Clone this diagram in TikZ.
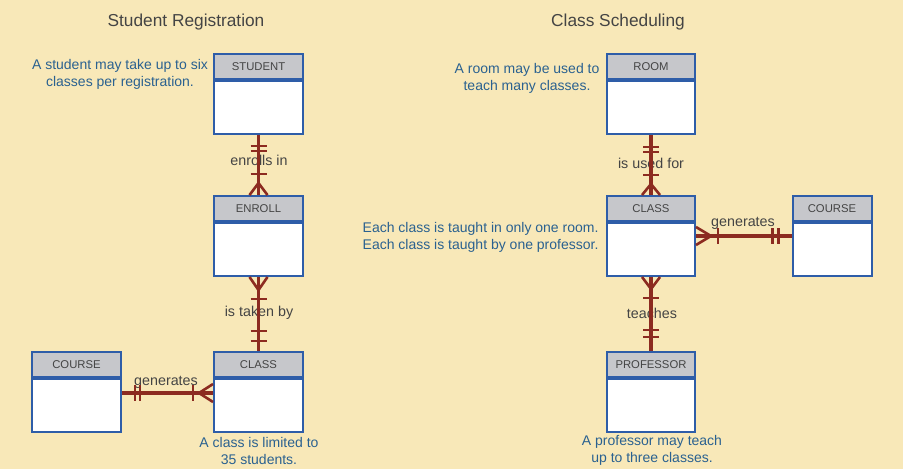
\documentclass[tikz,border=0pt]{standalone}
\usepackage{fontspec}
\setmainfont{Liberation Sans}
\usetikzlibrary{calc}
\definecolor{bg}{HTML}{F8E8B8}
\definecolor{boxblue}{HTML}{2E5DA8}
\definecolor{hdrgray}{HTML}{C6C7CB}
\definecolor{rel}{HTML}{8C2B20}
\definecolor{notec}{HTML}{2A6190}
\definecolor{lbl}{HTML}{444444}
\begin{document}
\begin{tikzpicture}[x=1pt,y=-1pt,
 hdr/.style={draw=boxblue, line width=2pt, fill=hdrgray, minimum width=89pt, minimum height=25pt, inner sep=0pt, font=\fontsize{11.3}{13}\selectfont, text=lbl},
 bodybox/.style={draw=boxblue, line width=2pt, fill=white, minimum width=89pt, minimum height=53pt, inner sep=0pt, anchor=north},
 relline/.style={draw=rel, line width=3.2pt},
 tickmark/.style={draw=rel, line width=2.6pt},
 crowline/.style={draw=rel, line width=2.6pt},
 rlabel/.style={font=\fontsize{14.3}{16}\selectfont, text=lbl, inner sep=1pt},
 notetext/.style={font=\fontsize{14}{17}\selectfont, text=notec, align=center},
 titletext/.style={font=\fontsize{17.3}{20}\selectfont, text=lbl}]
\fill[bg] (0,0) rectangle (903,469);
\useasboundingbox (0,0) rectangle (903,469);

% titles
\node[titletext] (t1) at (186,22) {Student Registration};
\node[titletext] (t2) at (618,22) {Class Scheduling};

% left entities
\node[hdr] (student) at (258.5,66.5) {STUDENT};
\node[bodybox] (studentB) at (student.south) {};
\node[hdr] (enroll) at (258.5,208.5) {ENROLL};
\node[bodybox] (enrollB) at (enroll.south) {};
\node[hdr] (classL) at (258.5,364.5) {CLASS};
\node[bodybox] (classLB) at (classL.south) {};
\node[hdr] (courseL) at (76.5,364.5) {COURSE};
\node[bodybox] (courseLB) at (courseL.south) {};

% right entities
\node[hdr, minimum width=88pt] (room) at (651,66.5) {ROOM};
\node[bodybox, minimum width=88pt] (roomB) at (room.south) {};
\node[hdr, minimum width=88pt] (classR) at (651,208.5) {CLASS};
\node[bodybox, minimum width=88pt] (classRB) at (classR.south) {};
\node[hdr, minimum width=79pt] (courseR) at (832,208.5) {COURSE};
\node[bodybox, minimum width=79pt] (courseRB) at (courseR.south) {};
\node[hdr, minimum width=88pt] (prof) at (651,364.5) {PROFESSOR};
\node[bodybox, minimum width=88pt] (profB) at (prof.south) {};

% notes
\node[notetext] (n1) at (120,74.5) {A student may take up to six\\classes per registration.};
\node[notetext] (n2) at (527,78.5) {A room may be used to\\teach many classes.};
\node[notetext, align=right, anchor=east] (n3) at (602,237) {Each class is taught in only one room.\\Each class is taught by one professor.};
\node[notetext] (n4) at (259,450.5) {A class is limited to\\35 students.};
\node[notetext] (n5) at (652,450.5) {A professor may teach\\up to three classes.};

% relationship labels
\node[rlabel] (l1) at (259,160) {enrolls in};
\node[rlabel] (l2) at (259,313) {is taken by};
\node[rlabel] (l3) at (166,382) {generates};
\node[rlabel] (l4) at (651,163) {is used for};
\node[rlabel] (l5) at (743,223) {generates};
\node[rlabel] (l6) at (652,313) {teaches};

% STUDENT -- ENROLL
\draw[relline] (studentB.south) -- (enroll.north);
\draw[tickmark] ($(studentB.south)+(-8,11)$) -- ++(16,0);
\draw[tickmark] ($(studentB.south)+(-8,16)$) -- ++(16,0);
\draw[tickmark] ($(enroll.north)+(-8,-21)$) -- ++(16,0);
\draw[crowline] ($(enroll.north)+(-9,0)$) -- ($(enroll.north)+(0,-12)$) -- ($(enroll.north)+(9,0)$);
\draw[crowline] ($(enroll.north)+(0,-12)$) -- (enroll.north);

% ENROLL -- CLASS (left)
\draw[relline] (enrollB.south) -- (classL.north);
\draw[crowline] ($(enrollB.south)+(-9,0)$) -- ($(enrollB.south)+(0,13)$) -- ($(enrollB.south)+(9,0)$);
\draw[tickmark] ($(enrollB.south)+(-8,22)$) -- ++(16,0);
\draw[tickmark] ($(classL.north)+(-8,-20)$) -- ++(16,0);
\draw[tickmark] ($(classL.north)+(-8,-10)$) -- ++(16,0);

% COURSE -- CLASS (left)
\coordinate (cl1) at ($(courseLB.north east)+(0,15)$);
\coordinate (cl2) at ($(classLB.north west)+(0,15)$);
\draw[relline] (cl1) -- (cl2);
\draw[tickmark] ($(cl1)+(13,-8)$) -- ++(0,16);
\draw[tickmark] ($(cl1)+(18,-8)$) -- ++(0,16);
\draw[tickmark] ($(cl2)+(-20,-8)$) -- ++(0,16);
\draw[crowline] ($(cl2)+(0,-9)$) -- ($(cl2)+(-14,0)$) -- ($(cl2)+(0,9)$);

% ROOM -- CLASS (right)
\draw[relline] (roomB.south) -- (classR.north);
\draw[tickmark] ($(roomB.south)+(-8,12)$) -- ++(16,0);
\draw[tickmark] ($(roomB.south)+(-8,17)$) -- ++(16,0);
\draw[tickmark] ($(classR.north)+(-8,-20)$) -- ++(16,0);
\draw[crowline] ($(classR.north)+(-9,0)$) -- ($(classR.north)+(0,-11)$) -- ($(classR.north)+(9,0)$);

% CLASS -- COURSE (right)
\coordinate (cr1) at ($(classRB.north east)+(0,14)$);
\coordinate (cr2) at ($(courseRB.north west)+(0,14)$);
\draw[relline] (cr1) -- (cr2);
\draw[crowline] ($(cr1)+(0,-9)$) -- ($(cr1)+(15,0)$) -- ($(cr1)+(0,9)$);
\draw[tickmark] ($(cr1)+(22,-8)$) -- ++(0,16);
\draw[tickmark] ($(cr2)+(-19,-8)$) -- ++(0,16);
\draw[tickmark] ($(cr2)+(-13,-8)$) -- ++(0,16);

% CLASS -- PROFESSOR
\draw[relline] (classRB.south) -- (prof.north);
\draw[crowline] ($(classRB.south)+(-9,0)$) -- ($(classRB.south)+(0,12)$) -- ($(classRB.south)+(9,0)$);
\draw[tickmark] ($(classRB.south)+(-8,21)$) -- ++(16,0);
\draw[tickmark] ($(prof.north)+(-8,-21)$) -- ++(16,0);
\draw[tickmark] ($(prof.north)+(-8,-14)$) -- ++(16,0);
\end{tikzpicture}
\end{document}
